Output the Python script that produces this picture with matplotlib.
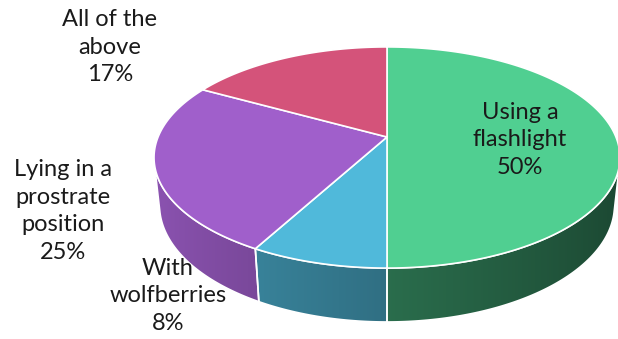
import numpy as np
import matplotlib.pyplot as plt
from matplotlib.colors import to_rgb
from matplotlib.patches import Polygon

labels = ['Using a\nflashlight\n50%', 'With\nwolfberries\n8%',
          'Lying in a\nprostrate\nposition\n25%', 'All of the\nabove\n17%']
values = [50, 8, 25, 17]
top_colors = ['#50CF91', '#50B9DA', '#A05FCB', '#D4537A']
side_gain = [0.85, 0.97, 1.05, 1.0]

# label anchor points in pixels
label_pos = [(520, 140), (168, 296), (63, 211), (110, 47)]

# camera / projection settings
cx, cy = 387, 137
scale = 1092
dist = 4.77
tilt = np.radians(27.8)
depth = 0.238


def project(theta, z=0.0):
    x = np.cos(theta)
    y = np.sin(theta)
    d = dist + y * np.cos(tilt) - z * np.sin(tilt)
    sx = x / d
    sy = (y * np.sin(tilt) + z * np.cos(tilt)) / d
    return cx + scale * sx, cy - scale * sy


def shade(theta):
    return 0.62 - 0.22 * np.cos(theta)


fig = plt.figure(figsize=(6.18, 3.39), dpi=100)
ax = fig.add_axes([0, 0, 1, 1])
ax.axis('off')

total = sum(values)
bounds = np.radians(90 - 360 * np.cumsum([0] + values) / total)

# visible part of the side wall
lim = np.arcsin(1 / (dist * np.cos(tilt)))
vis_lo, vis_hi = -np.pi + lim, -lim

for i, col in enumerate(top_colors):
    t0, t1 = bounds[i], bounds[i + 1]
    a = max(min(t0, t1), vis_lo)
    b = min(max(t0, t1), vis_hi)
    if a >= b:
        continue
    th = np.linspace(b, a, 120)
    xt, yt = project(th, 0)
    xb, yb = project(th[::-1], -depth)
    pts = np.column_stack([np.r_[xt, xb], np.r_[yt, yb]])
    ax.add_patch(Polygon(pts, closed=True, facecolor='none', edgecolor='white',
                         lw=1.2, zorder=3))
    # horizontal gradient clipped to the wall
    base = np.array(to_rgb(col)) * side_gain[i]
    xs = np.linspace(pts[:, 0].min(), pts[:, 0].max(), 200)
    order = np.argsort(xt)
    th_x = np.interp(xs, xt[order], th[order])
    img = np.clip(base[None, :] * shade(th_x)[:, None], 0, 1)[None, :, :]
    im = ax.imshow(img, extent=[xs[0], xs[-1], pts[:, 1].max(), pts[:, 1].min()],
                   aspect='auto', interpolation='bilinear', zorder=2)
    im.set_clip_path(Polygon(pts, closed=True, transform=ax.transData))

# top face wedges
for i, col in enumerate(top_colors):
    th = np.linspace(bounds[i], bounds[i + 1], 200)
    xt, yt = project(th, 0)
    pts = np.column_stack([np.r_[cx, xt], np.r_[cy, yt]])
    ax.add_patch(Polygon(pts, closed=True, facecolor=col, edgecolor='white',
                         lw=1.2, joinstyle='round', zorder=4))

for text, (x, y) in zip(labels, label_pos):
    ax.text(x, y, text, ha='center', va='center', fontsize=17, family='Lato',
            color='#1a1a1a', linespacing=1.38, zorder=5)

ax.set_xlim(0, 618)
ax.set_ylim(339, 0)
fig.savefig('out.png', dpi=100)
